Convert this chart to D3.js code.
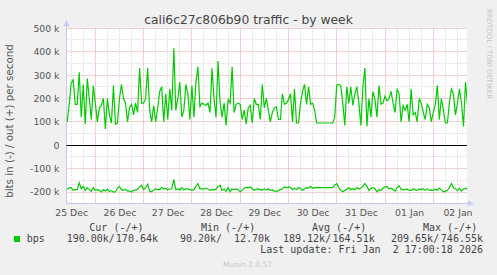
<!DOCTYPE html>
<html>
<head>
<meta charset="utf-8">
<script src="https://cdn.jsdelivr.net/npm/d3@7"></script>
<style>
body { margin: 0; background: #f0f0f0; }
svg { display: block; font-family: "DejaVu Sans", sans-serif; }
.mono { font-family: "DejaVu Sans Mono", monospace; font-size: 10px; fill: #444; white-space: pre; }
</style>
</head>
<body>
<svg id="chart" width="497" height="275"></svg>
<script>
// Hourly samples (kbit/s)
let startTime = new Date(2025, 11, 25, 10, 0)

let outK = [
  100, 175, 265, 280, 175, 175, 312, 120, 260, 90,
  285, 200, 110, 255, 180, 100, 160, 170, 200, 70,
  200, 130, 95, 255, 90, 95, 200, 260, 200, 180,
  100, 160, 175, 130, 180, 140, 330, 180, 180, 200,
  330, 150, 100, 170, 100, 160, 230, 250, 100, 220,
  110, 240, 150, 415, 150, 200, 270, 120, 150, 260,
  220, 110, 255, 120, 270, 335, 165, 180, 175, 170,
  180, 140, 330, 200, 120, 360, 185, 120, 180, 85,
  195, 180, 335, 140, 175, 180, 175, 110, 150, 90,
  160, 170, 95, 200, 175, 175, 110, 260, 160, 200,
  150, 100, 140, 160, 165, 110, 110, 220, 175, 180,
  195, 220, 100, 240, 95, 95, 180, 230, 260, 175,
  250, 175, 180, 150, 95, 95, 95, 95, 95, 95,
  95, 95, 95, 120, 258, 260, 255, 180, 85, 250,
  180, 250, 170, 220, 250, 180, 85, 250, 330, 80,
  200, 120, 230, 195, 120, 255, 175, 180, 210, 190,
  200, 230, 180, 140, 240, 220, 100, 170, 150, 175,
  100, 240, 130, 140, 100, 200, 180, 140, 110, 175,
  160, 100, 140, 175, 255, 110, 200, 150, 95, 95,
  180, 240, 220, 130, 180, 240, 180, 80, 270, 171
]

let inK = [
  190, 181, 181, 193, 190, 190, 161, 186, 176, 193,
  181, 190, 197, 181, 193, 190, 193, 200, 190, 196,
  188, 199, 194, 200, 199, 184, 176, 190, 193, 188,
  196, 196, 200, 193, 191, 188, 178, 171, 190, 181,
  167, 196, 199, 191, 187, 190, 190, 180, 187, 184,
  191, 187, 186, 147, 190, 187, 191, 181, 191, 187,
  187, 190, 193, 190, 176, 164, 187, 187, 188, 184,
  187, 193, 190, 191, 187, 176, 171, 193, 187, 197,
  181, 199, 187, 190, 187, 190, 200, 193, 184, 180,
  181, 178, 186, 193, 188, 187, 190, 193, 186, 191,
  187, 193, 190, 196, 197, 194, 190, 186, 178, 181,
  178, 180, 190, 184, 190, 181, 186, 193, 186, 181,
  183, 176, 184, 181, 181, 181, 181, 181, 181, 181,
  181, 181, 181, 171, 164, 181, 193, 199, 193, 188,
  181, 190, 186, 190, 181, 187, 183, 176, 164, 176,
  193, 184, 181, 186, 199, 190, 193, 184, 178, 177,
  186, 184, 190, 196, 181, 173, 188, 190, 190, 187,
  193, 193, 187, 190, 193, 187, 190, 186, 193, 187,
  193, 191, 193, 188, 193, 183, 191, 199, 196, 193,
  181, 164, 181, 187, 193, 184, 196, 187, 184, 190
]

let yTicks = [500, 400, 300, 200, 100, 0, -100, -200]
let legendHeads = ["Cur (-/+)", "Min (-/+)", "Avg (-/+)", "Max (-/+)"]
let legendIn = ["190.00k/", "90.20k/", "189.12k/", "209.65k/"]
let legendOut = ["170.64k", "12.70k", "164.51k", "746.55k"]

const svg = d3.select("#chart")
const plotL = 66.5, plotR = 467, plotT = 28.3, plotB = 203
const crisp = v => Math.round(v - 0.5) + 0.5

const xScale = d3.scaleTime()
  .domain([new Date(2025, 11, 25, 9, 40), new Date(2026, 0, 2, 16, 45)])
  .range([plotL, plotR])
const yScale = d3.scaleLinear().domain([-247, 500]).range([plotB, plotT])

// plot background
svg.append("rect")
  .attr("x", 66).attr("y", 28)
  .attr("width", plotR - 66).attr("height", plotB - 28)
  .attr("fill", "#fff")

// grid: minor first, then major
let [t0, t1] = xScale.domain()
let minorX = d3.timeHour.every(6).range(t0, t1).filter(d => d.getHours() != 0)
let majorX = d3.timeDay.range(t0, t1)
let minorY = d3.range(-200, 501, 50).filter(v => v % 100 != 0)

let grid = svg.append("g")
grid.selectAll(".vmin").data(minorX).enter().append("line")
  .attr("x1", d => crisp(xScale(d))).attr("x2", d => crisp(xScale(d)))
  .attr("y1", plotT).attr("y2", plotB)
  .attr("stroke", "#c8c8c8").attr("stroke-dasharray", "1,2")
grid.selectAll(".hmin").data(minorY).enter().append("line")
  .attr("x1", plotL).attr("x2", plotR)
  .attr("y1", d => crisp(yScale(d))).attr("y2", d => crisp(yScale(d)))
  .attr("stroke", "#c8c8c8").attr("stroke-dasharray", "1,2")
grid.selectAll(".vmaj").data(majorX).enter().append("line")
  .attr("x1", d => crisp(xScale(d))).attr("x2", d => crisp(xScale(d)))
  .attr("y1", plotT).attr("y2", plotB)
  .attr("stroke", "#eba0a0").attr("stroke-dasharray", "1,1")
grid.selectAll(".hmaj").data(yTicks.filter(v => v != 0)).enter().append("line")
  .attr("x1", plotL).attr("x2", plotR)
  .attr("y1", d => crisp(yScale(d))).attr("y2", d => crisp(yScale(d)))
  .attr("stroke", "#eba0a0").attr("stroke-dasharray", "1,1")

// axes lines with arrows
let axisColor = "#c4caf2"
svg.append("line").attr("x1", crisp(plotL)).attr("x2", crisp(plotL))
  .attr("y1", plotB + 1).attr("y2", 24).attr("stroke", axisColor)
svg.append("path")
  .attr("d", `M${crisp(plotL)},20 L${crisp(plotL) - 3},26 L${crisp(plotL) + 3},26 Z`)
  .attr("fill", axisColor)
svg.append("line").attr("x1", plotL).attr("x2", 470)
  .attr("y1", crisp(plotB)).attr("y2", crisp(plotB)).attr("stroke", axisColor)
svg.append("path")
  .attr("d", `M474,${crisp(plotB)} L468,${crisp(plotB) - 3} L468,${crisp(plotB) + 3} Z`)
  .attr("fill", axisColor)

// zero line
svg.append("line").attr("x1", plotL).attr("x2", plotR)
  .attr("y1", crisp(yScale(0))).attr("y2", crisp(yScale(0)))
  .attr("stroke", "#000")

// data lines
svg.append("clipPath").attr("id", "plotClip")
  .append("rect").attr("x", plotL).attr("y", plotT - 2)
  .attr("width", plotR - plotL).attr("height", plotB - plotT + 2)

const timeOf = i => d3.timeHour.offset(startTime, i)
let outLine = d3.line().x((d, i) => xScale(timeOf(i))).y(d => yScale(d))
let inLine = d3.line().x((d, i) => xScale(timeOf(i))).y(d => yScale(-d))

svg.append("path").datum(inK)
  .attr("clip-path", "url(#plotClip)")
  .attr("d", inLine).attr("fill", "none")
  .attr("stroke", "#00cc00").attr("stroke-width", 1.2)
svg.append("path").datum(outK)
  .attr("clip-path", "url(#plotClip)")
  .attr("d", outLine).attr("fill", "none")
  .attr("stroke", "#00cc00").attr("stroke-width", 1.2)

// y axis labels
const yAxis = d3.axisLeft(yScale).tickValues(yTicks).tickSize(0).tickPadding(7)
  .tickFormat(v => v == 0 ? "0" : (v < 0 ? "-" : "") + Math.abs(v) + " k")
let gy = svg.append("g").attr("transform", `translate(${plotL},0)`).call(yAxis)
gy.select(".domain").remove()
gy.selectAll("text").attr("font-family", "DejaVu Sans").attr("font-size", "9.3px").attr("fill", "#555")

// x axis labels at noon
let noons = d3.timeDay.range(new Date(2025, 11, 25), new Date(2026, 0, 3)).map(d => d3.timeHour.offset(d, 12))
const xAxis = d3.axisBottom(xScale).tickValues(noons).tickSize(0).tickPadding(6)
  .tickFormat(d3.timeFormat("%d %b"))
let gx = svg.append("g").attr("transform", `translate(0,${plotB})`).call(xAxis)
gx.select(".domain").remove()
gx.selectAll("text").attr("font-family", "DejaVu Sans").attr("font-size", "9.3px").attr("fill", "#555")

// titles
svg.append("text").attr("x", 248.5).attr("y", 23.5)
  .attr("text-anchor", "middle").attr("font-size", "12.3px").attr("fill", "#444")
  .text("cali6c27c806b90 traffic - by week")
svg.append("text").attr("transform", "translate(13,121) rotate(-90)")
  .attr("text-anchor", "middle").attr("font-size", "10.3px").attr("fill", "#555")
  .text("bits in (-) / out (+) per second")
svg.append("text").attr("transform", "translate(487,54) rotate(90)")
  .attr("text-anchor", "middle").attr("font-size", "7px").attr("fill", "#c4c4c4")
  .text("RRDTOOL / TOBI OETIKER")

// legend
let headX = [89.3, 201, 312, 423]
let inX = [66.7, 180, 283, 391]
let outX = [158, 270, 374.7, 483]
let legend = svg.append("g")
legend.selectAll(".head").data(legendHeads).enter().append("text")
  .attr("class", "mono").attr("x", (d, i) => headX[i]).attr("y", 230.5).text(d => d)
legend.selectAll(".vin").data(legendIn).enter().append("text")
  .attr("class", "mono").attr("x", (d, i) => inX[i]).attr("y", 242).text(d => d)
legend.selectAll(".vout").data(legendOut).enter().append("text")
  .attr("class", "mono").attr("x", (d, i) => outX[i]).attr("y", 242)
  .attr("text-anchor", "end").text(d => d)
legend.append("rect").attr("x", 14).attr("y", 236).attr("width", 6).attr("height", 6).attr("fill", "#00cc00")
legend.append("text").attr("class", "mono").attr("x", 26.7).attr("y", 242).text("bps")
legend.append("text").attr("class", "mono").attr("x", 483).attr("y", 253)
  .attr("text-anchor", "end").text("Last update: Fri Jan  2 17:00:18 2026")
svg.append("text").attr("x", 223).attr("y", 267)
  .attr("font-size", "7.5px").attr("fill", "#c8c8c8").text("Munin 2.0.57")
</script>
</body>
</html>
